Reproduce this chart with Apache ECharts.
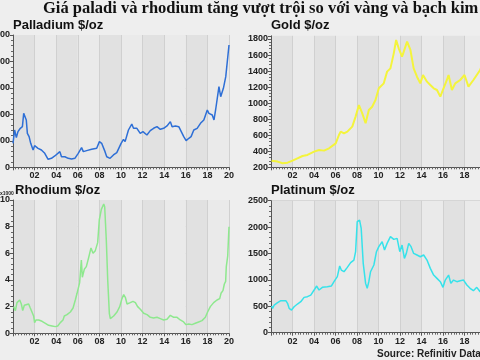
<!DOCTYPE html>
<html><head><meta charset="utf-8">
<script src="https://cdn.jsdelivr.net/npm/echarts@6/dist/echarts.min.js"></script>
<style>html,body{margin:0;padding:0;background:#eeeeee}#c{width:480px;height:360px}</style>
</head><body><div id="c"></div>
<script>
// ---- Data (years as decimal, values in $/oz; rhodium in thousands $/oz) ----
const palladiumYears = [2000.0,2000.15,2000.31,2000.46,2000.68,2000.87,2000.99,2001.08,2001.23,2001.33,2001.49,2001.64,2001.86,2002.0,2002.32,2002.63,2002.94,2003.25,2003.56,2003.87,2004.03,2004.34,2004.49,2004.8,2005.11,2005.42,2005.73,2006.04,2006.35,2006.51,2006.82,2007.28,2007.75,2008.0,2008.21,2008.52,2008.68,2008.99,2009.3,2009.61,2010.01,2010.23,2010.38,2010.69,2011.0,2011.16,2011.47,2011.78,2012.03,2012.4,2012.71,2013.02,2013.33,2013.64,2013.95,2014.26,2014.57,2014.73,2015.04,2015.35,2015.66,2015.81,2016.03,2016.28,2016.49,2016.74,2017.05,2017.36,2017.67,2017.99,2018.14,2018.45,2018.61,2018.76,2019.07,2019.23,2019.48,2019.7,2019.85,2020.0];
const palladiumValues = [453,705,560,674,737,768,1020,1039,894,642,580,453,327,409,359,327,264,151,170,214,200,296,200,200,170,157,170,264,371,296,315,340,359,485,453,296,200,170,233,277,453,529,485,705,818,737,737,642,674,611,693,737,768,718,737,781,863,768,781,768,642,580,504,548,580,705,737,831,894,1083,1020,989,894,1083,1524,1335,1492,1713,1744,2311];

const goldYears = [2000.05,2000.61,2001.07,2001.54,2002.0,2002.46,2002.93,2003.39,2004.01,2004.47,2004.93,2005.4,2006.02,2006.32,2006.48,2006.79,2007.1,2007.56,2007.87,2008.18,2008.49,2008.8,2009.1,2009.41,2009.72,2010.03,2010.49,2010.8,2011.11,2011.42,2011.64,2011.88,2012.19,2012.35,2012.66,2012.97,2013.27,2013.58,2013.89,2014.14,2014.51,2014.82,2015.13,2015.44,2015.75,2016.05,2016.36,2016.52,2016.83,2017.14,2017.6,2018.0,2018.37,2018.83,2019.45,2019.7,2020.0];
const goldValues = [283,271,250,258,283,312,341,354,395,416,408,437,499,603,645,624,645,707,832,977,873,749,915,956,1040,1185,1247,1393,1434,1621,1788,1684,1580,1642,1767,1663,1434,1330,1247,1351,1268,1226,1185,1164,1081,1185,1289,1351,1164,1247,1289,1351,1206,1289,1413,1500,1560];

const rhodiumYears = [2000.06,2000.22,2000.37,2000.62,2000.77,2000.9,2001.05,2001.23,2001.45,2001.6,2001.76,2001.91,2002.0,2002.13,2002.38,2002.69,2003.0,2003.3,2003.61,2003.92,2004.14,2004.38,2004.63,2004.75,2005.0,2005.31,2005.56,2005.77,2005.93,2006.17,2006.33,2006.42,2006.6,2006.79,2007.01,2007.22,2007.41,2007.62,2007.84,2007.99,2008.18,2008.4,2008.49,2008.64,2008.77,2008.92,2009.01,2009.32,2009.63,2009.88,2010.09,2010.25,2010.4,2010.56,2010.86,2011.11,2011.33,2011.54,2011.79,2012.1,2012.41,2012.72,2013.02,2013.33,2013.64,2013.95,2014.26,2014.57,2014.88,2015.19,2015.49,2015.8,2016.02,2016.27,2016.57,2016.88,2017.19,2017.5,2017.81,2018.02,2018.27,2018.58,2018.89,2019.14,2019.26,2019.44,2019.57,2019.69,2019.75,2019.88,2020.0];
const rhodiumValues = [2.0,1.7,2.3,2.5,2.2,1.7,2.1,2.0,2.2,1.9,1.8,1.3,0.8,1.0,1.0,0.9,0.75,0.6,0.55,0.5,0.55,0.8,1.0,1.3,1.4,1.6,1.9,2.5,3.0,3.8,5.5,4.2,4.8,5.0,5.7,6.4,6.0,6.2,6.8,8.5,9.3,9.7,9.5,7.0,4.0,1.5,1.1,1.3,1.6,2.0,2.6,2.9,2.7,2.2,2.3,2.4,2.3,2.0,1.8,1.5,1.4,1.2,1.15,1.2,1.1,1.0,1.05,1.35,1.2,1.2,1.0,0.85,0.65,0.7,0.65,0.75,0.85,0.95,1.2,1.6,2.0,2.3,2.5,2.6,3.0,3.2,3.7,3.9,5.0,5.8,8.0];

const platinumYears = [2000.05,2000.15,2000.3,2000.61,2000.92,2001.07,2001.38,2001.54,2001.69,2001.91,2002.15,2002.46,2002.77,2003.08,2003.39,2003.7,2004.01,2004.25,2004.47,2004.78,2005.24,2005.61,2005.86,2006.17,2006.39,2006.54,2006.79,2007.1,2007.41,2007.71,2007.87,2008.02,2008.24,2008.39,2008.58,2008.8,2008.95,2009.1,2009.26,2009.57,2009.81,2010.03,2010.34,2010.56,2010.8,2011.11,2011.42,2011.73,2011.98,2012.19,2012.41,2012.59,2012.81,2013.03,2013.27,2013.58,2013.89,2014.2,2014.51,2014.82,2015.13,2015.44,2015.75,2016.0,2016.21,2016.52,2016.73,2016.98,2017.29,2017.6,2017.91,2018.22,2018.52,2018.83,2019.14,2019.45,2019.75,2020.0];
const platinumValues = [505,461,524,568,606,631,606,556,461,429,492,543,587,669,682,713,808,884,808,859,871,884,966,1061,1263,1187,1155,1237,1326,1376,1534,2102,2134,1976,1313,934,840,966,1155,1282,1534,1629,1723,1566,1692,1818,1768,1787,1534,1660,1408,1502,1692,1629,1502,1471,1439,1471,1376,1218,1092,1029,966,859,997,1092,934,997,966,985,997,903,840,795,859,776,900,960];

const yearTicks = [2000, 2020, 2];
const pallTicks = [0, 2500, 500];
const goldTicks = [200, 1840, 200];
const rhodTicks = [0, 10, 2];
const platTicks = [0, 2500, 500];

const mainTitle = 'Giá paladi và rhodium tăng vượt trội so với vàng và bạch kim';
const panelTitles = ['Palladium $/oz', 'Gold $/oz', 'Rhodium $/oz', 'Platinum $/oz'];
const sourceText = 'Source: Refinitiv Datastream';

// ---- Build ----
const zip = (xs, ys) => xs.map((x, i) => [x, ys[i]]);
const FONT = 'Liberation Sans, Arial, sans-serif';
const labelStyle = {fontSize: 9, fontWeight: 'bold', color: '#222', fontFamily: FONT};

function xAxis(gi) {
  return {
    type: 'value', gridIndex: gi, min: yearTicks[0], max: yearTicks[1], interval: yearTicks[2],
    axisLine: {show: true, lineStyle: {color: '#555', width: 1}},
    axisTick: {show: true, length: 3, lineStyle: {color: '#555'}},
    minorTick: {show: true, splitNumber: 8, length: 2, lineStyle: {color: '#666'}},
    axisLabel: Object.assign({}, labelStyle, {margin: 4, showMinLabel: false,
      formatter: v => String(v % 100).padStart(2, '0')}),
    splitLine: {show: true, lineStyle: {color: '#d0d0d0', width: 1}},
    splitArea: {show: true, areaStyle: {color: ['#e1e1e1', '#eaeaea']}}
  };
}
function yAxis(gi, t, extra) {
  return Object.assign({
    type: 'value', gridIndex: gi, min: t[0], max: t[1], interval: t[2],
    axisLine: {show: true, lineStyle: {color: '#555', width: 1}},
    axisTick: {show: true, length: 3, lineStyle: {color: '#555'}},
    minorTick: {show: true, splitNumber: 5, length: 2, lineStyle: {color: '#666'}},
    axisLabel: Object.assign({}, labelStyle, {margin: 3, formatter: v => String(v)}),
    splitLine: {show: true, lineStyle: {color: '#d0d0d0', width: 1}}
  }, extra || {});
}
function line(gi, data, color, w) {
  return {type: 'line', xAxisIndex: gi, yAxisIndex: gi, data: data, showSymbol: false,
    symbol: 'none', lineStyle: {color: color, width: w}, animation: false};
}

const chart = echarts.init(document.getElementById('c'), null, {renderer: 'canvas'});
const tStyle = {fontSize: 13, fontWeight: 'bold', color: '#111', fontFamily: FONT};
const g = (o) => Object.assign({outerBoundsMode: 'none', containLabel: false}, o);
chart.setOption({
  backgroundColor: '#eeeeee',
  animation: false,
  title: [
    {text: mainTitle, left: 43, top: 0, padding: 0,
      textStyle: {fontSize: 16.5, fontWeight: 'bold', color: '#111', fontFamily: 'Liberation Serif, Times New Roman, serif'}},
    {text: panelTitles[0], left: 13, top: 19, padding: 0, textStyle: tStyle},
    {text: panelTitles[1], left: 271, top: 19, padding: 0, textStyle: tStyle},
    {text: panelTitles[2], left: 15, top: 184, padding: 0, textStyle: tStyle},
    {text: panelTitles[3], left: 271, top: 184, padding: 0, textStyle: tStyle},
    {text: 'x1000', left: 0, top: 191, padding: 0, textStyle: {fontSize: 5, fontWeight: 'bold', color: '#222', fontFamily: FONT}},
    {text: sourceText, left: 377, top: 349, padding: 0, textStyle: {fontSize: 10, fontWeight: 'bold', color: '#222', fontFamily: FONT}}
  ],
  grid: [
    g({left: 13, top: 35, width: 216, height: 132.3}),
    g({left: 271, top: 35.8, width: 215, height: 131.5}),
    g({left: 13, top: 200, width: 216, height: 133.3}),
    g({left: 271, top: 200.7, width: 215, height: 132})
  ],
  xAxis: [xAxis(0), xAxis(1), xAxis(2), xAxis(3)],
  yAxis: [
    yAxis(0, pallTicks),
    yAxis(1, goldTicks, {axisLabel: Object.assign({}, labelStyle, {margin: 3, showMaxLabel: false, formatter: v => String(v)})}),
    yAxis(2, rhodTicks),
    yAxis(3, platTicks)
  ],
  series: [
    line(0, zip(palladiumYears, palladiumValues), '#2e6fd6', 1.5),
    line(1, zip(goldYears, goldValues), '#f4f43c', 2),
    line(2, zip(rhodiumYears, rhodiumValues), '#8ee88e', 1.5),
    line(3, zip(platinumYears, platinumValues), '#36e2ea', 1.5)
  ]
});
</script></body></html>
